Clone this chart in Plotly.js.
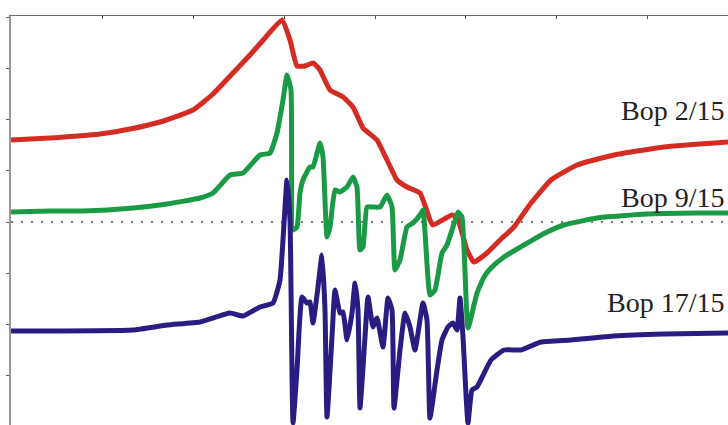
<!DOCTYPE html>
<html>
<head>
<meta charset="utf-8">
<script src="https://cdn.plot.ly/plotly-3.0.1.min.js"></script>
<style>html,body{margin:0;padding:0;background:#fff;overflow:hidden}#chart{width:728px;height:425px}</style>
</head>
<body>
<div id="chart"></div>
<script>
// Series labels
var seriesNames = ["Bop 2/15", "Bop 9/15", "Bop 17/15"];

// Bop 2/15 (red)
var redX = [0, 39, 89, 119, 149, 182, 202, 222, 239, 254, 271, 279, 286, 294, 302, 309, 319, 332, 342, 352, 366, 376, 386, 396, 409, 419, 422, 441, 446, 456, 463, 476, 489, 503, 520, 540, 566, 603, 653, 717];
var redY = [82, 84, 88, 93, 100, 112, 128, 149, 167, 184, 202, 182, 156, 156, 159, 152, 132, 125, 115, 94, 82, 62, 42, 35, 29, 2, -3, 7, 5, -28, -40, -31, -18, -5, 19, 42, 57, 67, 75, 80];

// Bop 9/15 (green)
var greenX = [0, 39, 72, 122, 156, 189, 202, 219, 232, 249, 259, 266, 272, 276, 280, 282, 286, 289, 292, 299, 302, 309, 312, 316, 319, 324, 329, 336, 342, 346, 349, 352, 356, 362, 369, 376, 381, 384, 389, 396, 402, 409, 412, 419, 424, 431, 436, 442, 447, 451, 457, 466, 473, 480, 493, 513, 536, 553, 586, 636, 686, 717];
var greenY = [10, 11, 11, 14, 18, 24, 29, 47, 49, 67, 69, 89, 122, 147, 132, -8, -5, 29, 42, 55, 55, 79, 65, -15, -5, 32, 30, 35, 45, 35, -28, -25, 15, 15, 15, 27, 15, -48, -38, -5, -1, 7, 12, -73, -68, -31, -23, -5, 10, 5, -106, -71, -55, -46, -35, -23, -10, -3, 4, 8, 9, 9];

// Bop 17/15 (navy)
var navyX = [0, 122, 156, 189, 219, 232, 249, 262, 269, 276, 279, 282, 286, 291, 296, 299, 302, 307, 311, 314, 316, 321, 324, 329, 332, 336, 341, 344, 347, 349, 354, 357, 362, 366, 372, 377, 381, 383, 389, 394, 399, 404, 412, 416, 419, 426, 431, 437, 442, 446, 449, 452, 457, 461, 466, 480, 493, 510, 530, 560, 603, 653, 717];
var navyY = [-109, -108, -103, -100, -91, -94, -85, -81, -58, 42, 2, -201, -148, -75, -81, -80, -101, -65, -33, -88, -195, -115, -68, -91, -90, -118, -91, -61, -88, -186, -115, -75, -105, -96, -125, -76, -88, -186, -128, -91, -105, -128, -81, -98, -196, -148, -118, -105, -101, -108, -76, -115, -201, -168, -165, -138, -128, -128, -120, -118, -114, -112, -111];

// label anchor values (y level of each label)
var labelY = [112, 25, -80];
var colors = ["#d42b22", "#1b9a45", "#2a1d82"];

var xs = [redX, greenX, navyX], ys = [redY, greenY, navyY];
var traces = xs.map(function (x, i) {
  return {
    type: "scatter", mode: "lines", x: x, y: ys[i], name: seriesNames[i],
    line: {color: colors[i], width: 5, shape: "spline", smoothing: 0.4}, hoverinfo: "skip"
  };
});

var annotations = seriesNames.map(function (t, i) {
  return {
    text: t, xref: "x", yref: "y", x: 715, y: labelY[i],
    xanchor: "right", yanchor: "middle", showarrow: false,
    font: {family: "Liberation Serif, Times New Roman, serif", size: 28, color: "#222"}
  };
});

var layout = {
  width: 728, height: 425,
  margin: {l: 11, r: 0, t: 16, b: 0, pad: 0},
  paper_bgcolor: "#fff", plot_bgcolor: "#fff",
  showlegend: false,
  xaxis: {
    range: [0, 717], side: "top", showgrid: false, zeroline: false,
    showline: true, linecolor: "#6e6e6e", linewidth: 1.5,
    ticks: "inside", ticklen: 3, tickcolor: "#555", tickwidth: 1,
    tick0: 0.4, dtick: 90.9, showticklabels: false, fixedrange: true
  },
  yaxis: {
    range: [-203, 206], showgrid: false, zeroline: false,
    showline: true, linecolor: "#999", linewidth: 2.5,
    ticks: "outside", ticklen: 3, tickcolor: "#555", tickwidth: 1,
    tick0: 0, dtick: 51.2, showticklabels: false, fixedrange: true
  },
  shapes: [{
    type: "line", xref: "paper", yref: "y", x0: 0, x1: 1, y0: 0, y1: 0,
    line: {color: "#777", width: 2, dash: "2px,8px"}, layer: "below"
  }],
  annotations: annotations
};

Plotly.newPlot("chart", traces, layout, {staticPlot: true, displayModeBar: false});
</script>
</body>
</html>
